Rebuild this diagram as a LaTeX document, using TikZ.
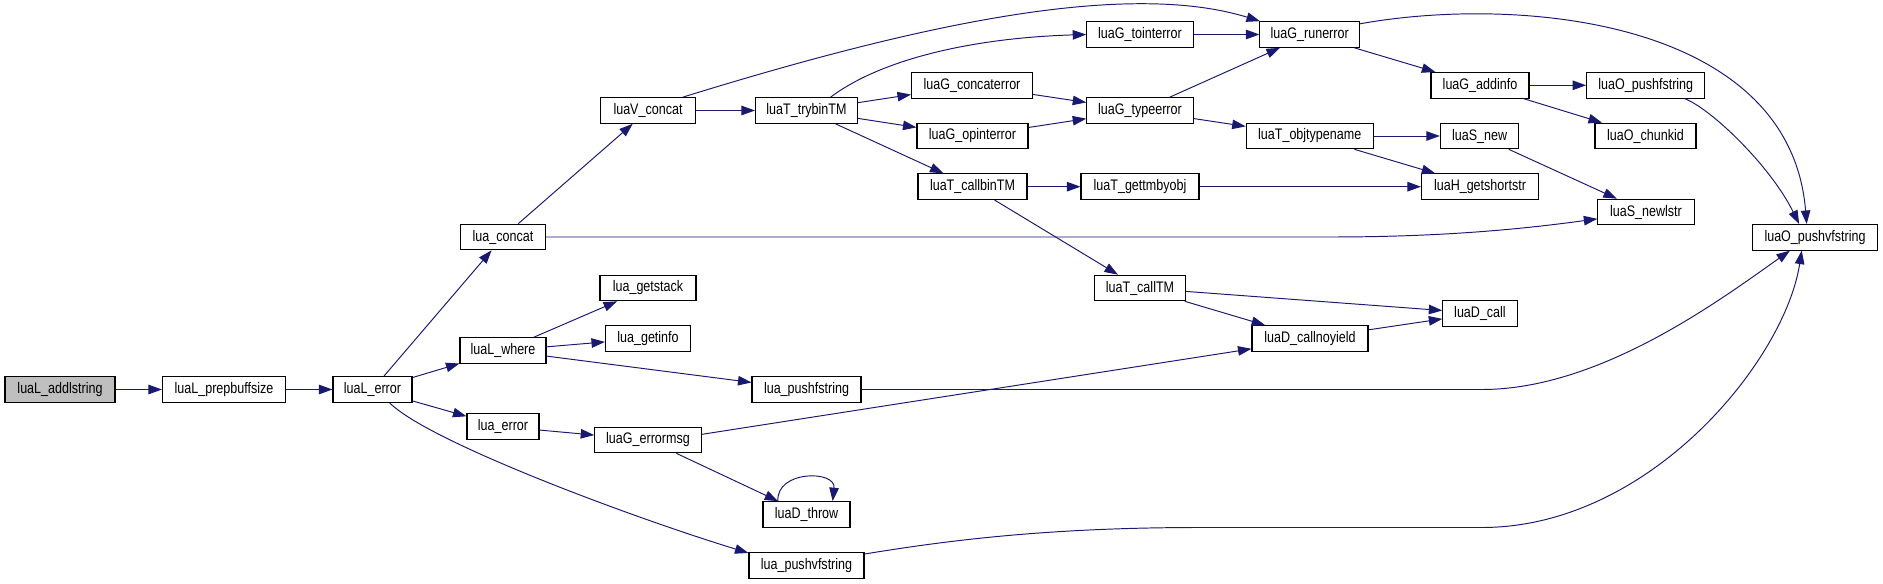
\documentclass[tikz,border=0pt]{standalone}
\usepackage{fontspec}
\usepackage{tikz}
\usetikzlibrary{arrows.meta}
\newfontfamily\graphfont{Liberation Sans}[FakeStretch=0.82]
\definecolor{edgeblue}{HTML}{191970}
\definecolor{rootgray}{HTML}{BFBFBF}

\begin{document}
\begin{tikzpicture}[x=0.02cm, y=-0.02cm,
    fn/.style={rectangle, draw=black, line width=0.6pt, fill=white, minimum width=#1*0.02cm, minimum height=0.512cm, inner sep=0pt, font=\graphfont\fontsize{8.7}{9}\selectfont},
    call/.style={-{Triangle[length=0.27cm, width=0.19cm]}, draw=edgeblue, line width=0.55pt}]

    \useasboundingbox[fill=white] (0,0) rectangle (1883,584);

    \node[fn=110, fill=rootgray] (addlstring) at (60,389.5) {luaL\_addlstring};
    \node[fn=123] (prepbuffsize) at (224,389.5) {luaL\_prepbuffsize};
    \node[fn=79] (Lerror) at (372.5,389.5) {luaL\_error};
    \node[fn=85] (concat) at (503,237) {lua\_concat};
    \node[fn=86] (where) at (503,350.5) {luaL\_where};
    \node[fn=72] (error) at (503,426.7) {lua\_error};
    \node[fn=95] (vconcat) at (648,110.5) {luaV\_concat};
    \node[fn=96] (getstack) at (648,288) {lua\_getstack};
    \node[fn=85] (getinfo) at (648,338.3) {lua\_getinfo};
    \node[fn=106.5] (errormsg) at (648,440) {luaG\_errormsg};
    \node[fn=102] (trybinTM) at (806.5,110.5) {luaT\_trybinTM};
    \node[fn=109] (pushfstring) at (806.5,389.5) {lua\_pushfstring};
    \node[fn=87] (throw) at (806.5,514.5) {luaD\_throw};
    \node[fn=115] (pushvfstring) at (806.5,565.3) {lua\_pushvfstring};
    \node[fn=121] (concaterror) at (972,85.3) {luaG\_concaterror};
    \node[fn=111] (opinterror) at (972.5,136) {luaG\_opinterror};
    \node[fn=109] (callbinTM) at (972.5,186.7) {luaT\_callbinTM};
    \node[fn=106.5] (tointerror) at (1140,34.5) {luaG\_tointerror};
    \node[fn=106.5] (typeerror) at (1140,110.5) {luaG\_typeerror};
    \node[fn=118] (gettmbyobj) at (1140,186.7) {luaT\_gettmbyobj};
    \node[fn=91] (callTM) at (1140,288) {luaT\_callTM};
    \node[fn=99.5] (runerror) at (1309.7,34.5) {luaG\_runerror};
    \node[fn=127] (objtypename) at (1309.7,136) {luaT\_objtypename};
    \node[fn=116] (callnoyield) at (1310,338.5) {luaD\_callnoyield};
    \node[fn=98] (addinfo) at (1480,85.3) {luaG\_addinfo};
    \node[fn=78.5] (Snew) at (1479.6,136) {luaS\_new};
    \node[fn=117] (getshortstr) at (1480,186.7) {luaH\_getshortstr};
    \node[fn=74.3] (Dcall) at (1480,313.3) {luaD\_call};
    \node[fn=118.3] (Opushfstring) at (1645.8,85.3) {luaO\_pushfstring};
    \node[fn=101] (chunkid) at (1645.5,136) {luaO\_chunkid};
    \node[fn=96.3] (newlstr) at (1646,212) {luaS\_newlstr};
    \node[fn=124.4] (Opushvfstring) at (1815,237.3) {luaO\_pushvfstring};

    \draw[call] (addlstring) -- (prepbuffsize);
    \draw[call] (prepbuffsize) -- (Lerror);
    \draw[call] (Lerror) -- (concat);
    \draw[call] (Lerror) -- (where);
    \draw[call] (Lerror) -- (error);
    \draw[call] (Lerror.-38) .. controls (430,443) and (640,520) .. (pushvfstring.168);
    \draw[call] (concat) -- (vconcat);
    \draw[call] (concat) -- (1330,237) .. controls (1450,237) and (1530,228) .. (newlstr.188);
    \draw[call] (where) -- (getstack);
    \draw[call] (where) -- (getinfo);
    \draw[call] (where) -- (pushfstring);
    \draw[call] (error) -- (errormsg);
    \draw[call] (errormsg.6) -- (callnoyield.190);
    \draw[call] (errormsg) -- (throw);
    \draw[call] (throw.155) .. controls (776,470) and (836,470) .. (throw.27);
    \draw[call] (pushvfstring.11) .. controls (950,540) and (1050,527.5) .. (1200,527.5) -- (1482,527.5) .. controls (1650,527.5) and (1785,360) .. (Opushvfstring.225);
    \draw[call] (pushfstring) -- (1482,389.5) .. controls (1600,389.5) and (1720,300) .. (Opushvfstring.208);
    \draw[call] (vconcat) -- (trybinTM);
    \draw[call] (vconcat.21) .. controls (900,30) and (1120,-22) .. (runerror.165);
    \draw[call] (trybinTM.29) .. controls (880,60) and (970,38) .. (tointerror.west);
    \draw[call] (trybinTM) -- (concaterror);
    \draw[call] (trybinTM) -- (opinterror);
    \draw[call] (trybinTM) -- (callbinTM);
    \draw[call] (concaterror) -- (typeerror);
    \draw[call] (opinterror) -- (typeerror);
    \draw[call] (tointerror) -- (runerror);
    \draw[call] (typeerror) -- (runerror);
    \draw[call] (typeerror) -- (objtypename);
    \draw[call] (callbinTM) -- (gettmbyobj);
    \draw[call] (callbinTM) -- (callTM);
    \draw[call] (gettmbyobj) -- (getshortstr);
    \draw[call] (objtypename) -- (Snew);
    \draw[call] (objtypename) -- (getshortstr);
    \draw[call] (Snew) -- (newlstr);
    \draw[call] (runerror) -- (addinfo);
    \draw[call] (runerror.12) .. controls (1520,-5) and (1790,20) .. (Opushvfstring.122);
    \draw[call] (addinfo) -- (Opushfstring);
    \draw[call] (addinfo) -- (chunkid);
    \draw[call] (Opushfstring.-19) .. controls (1710,108) and (1770,165) .. (Opushvfstring.140);
    \draw[call] (callTM) -- (Dcall);
    \draw[call] (callTM) -- (callnoyield);
    \draw[call] (callnoyield) -- (Dcall);
\end{tikzpicture}
\end{document}
